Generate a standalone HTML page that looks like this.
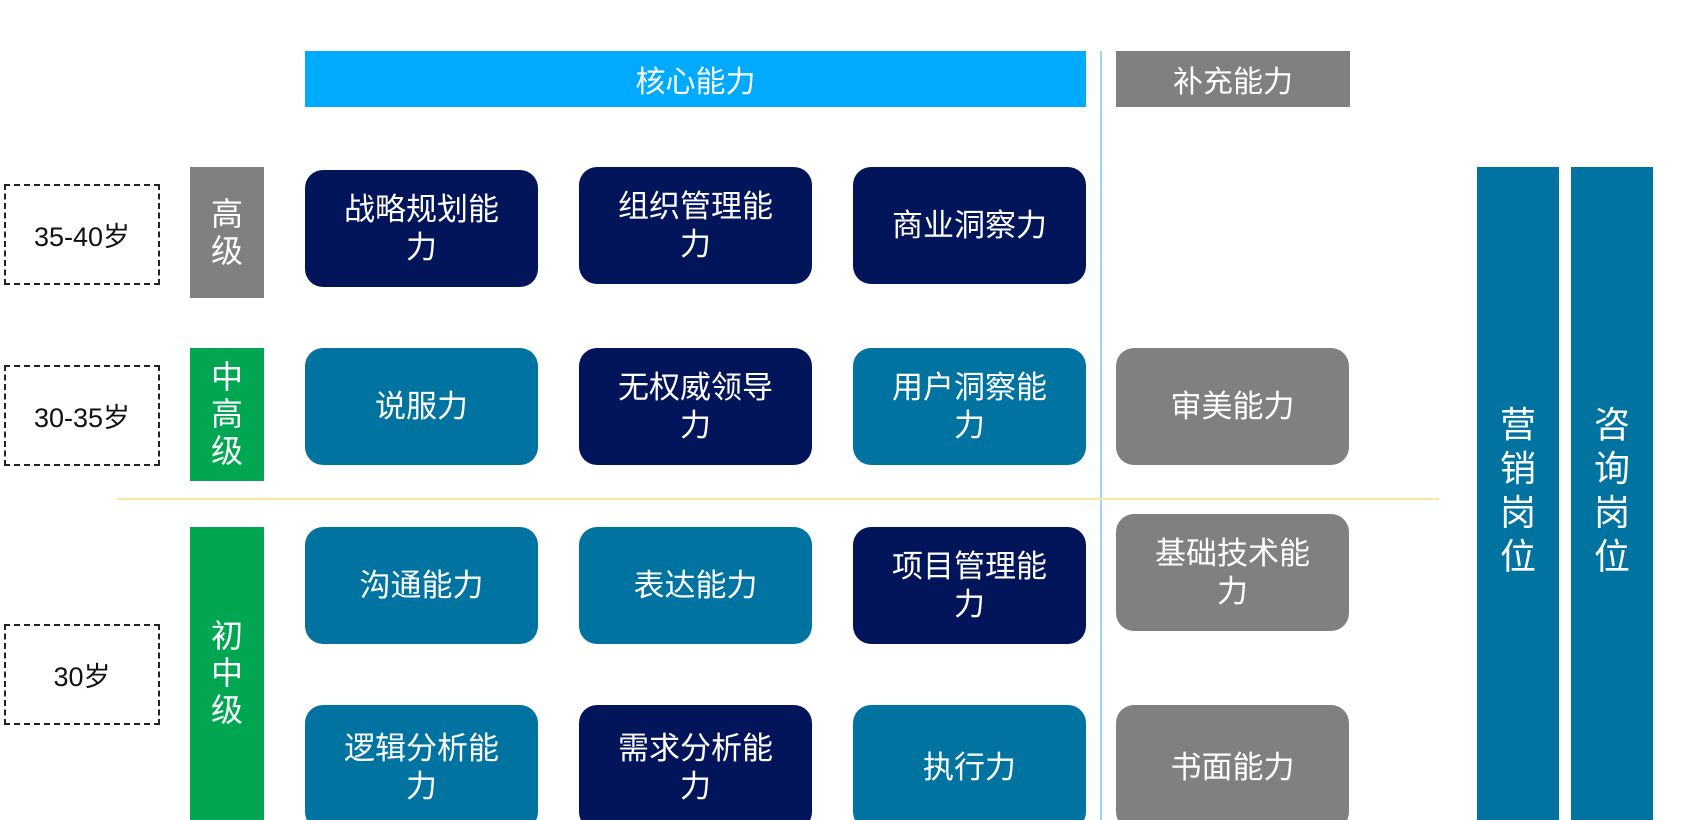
<!DOCTYPE html>
<html style="overflow:hidden;height:820px"><head><meta charset="utf-8"><style>
body{margin:0;width:1697px;height:820px;background:#fff;position:relative;overflow:hidden;font-family:"Liberation Sans","Noto Sans CJK SC",sans-serif}
div{position:absolute;box-sizing:border-box}
.b{display:flex;align-items:center;justify-content:center;text-align:center;color:#fff;font-size:31px;line-height:38px;border-radius:18px;width:233px;height:117px}
.n{background:#03155a}.t{background:#0173a0}.g{background:#808080}
.d{border:2px dashed #222;display:flex;align-items:center;justify-content:center;font-size:27px;color:#111;left:4px;width:156px;height:101px}
.lv{left:190px;width:74px;color:#fff;font-size:32px;line-height:37px;display:flex;align-items:center;justify-content:center;text-align:center}
.rb{background:#0173a0;color:#fff;font-size:36px;line-height:44px;top:167px;height:653px;width:82px;text-align:center;padding-top:240px}
</style></head><body>
<div style="left:305px;top:51px;width:781px;height:56px;background:#00aaff;color:#fff;font-size:30px;display:flex;align-items:center;justify-content:center">核心能力</div>
<div style="left:1116px;top:51px;width:234px;height:56px;background:#808080;color:#fff;font-size:30px;display:flex;align-items:center;justify-content:center">补充能力</div>
<div style="left:1100px;top:51px;width:2px;height:769px;background:#9fd3f2"></div>
<div style="left:117px;top:498px;width:1322px;height:2px;background:#fbe6a0"></div>
<div class="d" style="top:184px">35-40岁</div>
<div class="d" style="top:365px">30-35岁</div>
<div class="d" style="top:624px">30岁</div>
<div class="lv" style="top:167px;height:131px;background:#808080">高<br>级</div>
<div class="lv" style="top:348px;height:133px;background:#00a651">中<br>高<br>级</div>
<div class="lv" style="top:527px;height:293px;background:#00a651">初<br>中<br>级</div>
<div class="b n" style="left:305px;top:170px">战略规划能<br>力</div>
<div class="b n" style="left:579px;top:167px">组织管理能<br>力</div>
<div class="b n" style="left:853px;top:167px">商业洞察力</div>
<div class="b t" style="left:305px;top:348px">说服力</div>
<div class="b n" style="left:579px;top:348px">无权威领导<br>力</div>
<div class="b t" style="left:853px;top:348px">用户洞察能<br>力</div>
<div class="b g" style="left:1116px;top:348px">审美能力</div>
<div class="b t" style="left:305px;top:527px">沟通能力</div>
<div class="b t" style="left:579px;top:527px">表达能力</div>
<div class="b n" style="left:853px;top:527px">项目管理能<br>力</div>
<div class="b g" style="left:1116px;top:514px">基础技术能<br>力</div>
<div class="b t" style="left:305px;top:705px;height:125px">逻辑分析能<br>力</div>
<div class="b n" style="left:579px;top:705px;height:125px">需求分析能<br>力</div>
<div class="b t" style="left:853px;top:705px;height:125px">执行力</div>
<div class="b g" style="left:1116px;top:705px;height:125px">书面能力</div>
<div class="rb" style="left:1477px;padding-top:236px;top:167px">营<br>销<br>岗<br>位</div>
<div class="rb" style="left:1571px;padding-top:236px;top:167px">咨<br>询<br>岗<br>位</div>
</body></html>
